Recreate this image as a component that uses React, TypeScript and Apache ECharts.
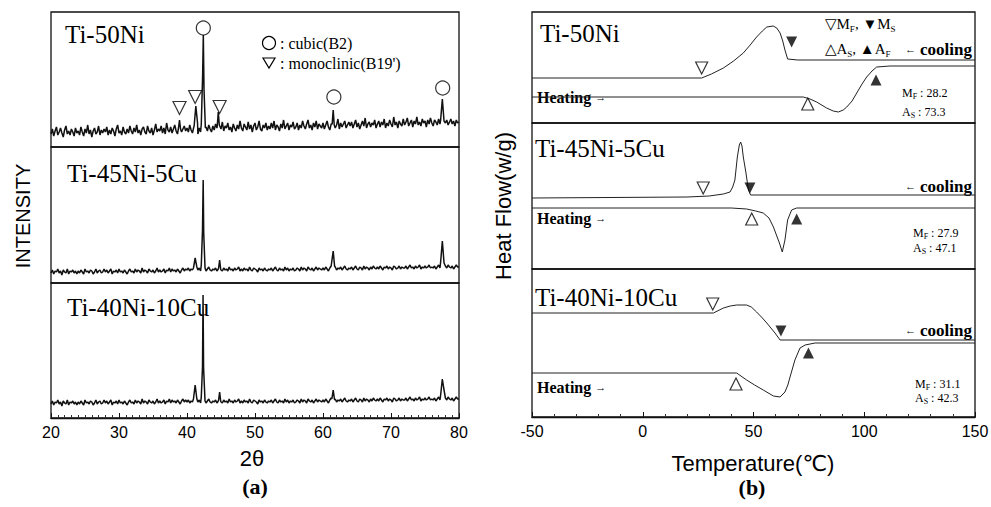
import React, { useEffect, useRef } from "react";
import * as echarts from "echarts";

// ---------- XRD (panel a) ----------
const TWO_THETA_START = 20;
const TWO_THETA_STEP = 0.2;

const xrdBase50Ni = [
  13, 18, 11, 16, 20, 12, 15, 19, 14, 10, 17, 21, 13, 16, 12, 18, 15, 11, 19, 14,
  16, 12, 20, 15, 11, 18, 14, 22, 13, 17, 10, 16, 19, 13, 15, 21, 12, 17, 14, 18,
  15, 20, 12, 17, 13, 19, 16, 11, 18, 22, 14, 16, 12, 20, 15, 13, 18, 14, 21, 16,
  13, 19, 15, 22, 14, 17, 12, 18, 20, 15, 13, 21, 16, 14, 19, 12, 17, 23, 15, 18,
  16, 21, 14, 19, 13, 24, 17, 15, 20, 14, 18, 22, 16, 13, 19, 25, 15, 18, 21, 16,
  19, 15, 22, 17, 14, 20, 16, 18, 13, 19, 15, 21, 17, 14, 20, 16, 22, 18, 15, 21,
  17, 23, 19, 15, 22, 18, 25, 16, 21, 19, 24, 17, 20, 15, 23, 19, 16, 22, 18, 26,
  19, 16, 23, 20, 17, 25, 18, 22, 15, 21, 24, 17, 20, 26, 18, 16, 22, 19, 24, 17,
  21, 18, 24, 19, 26, 17, 22, 20, 16, 23, 19, 27, 18, 21, 24, 17, 22, 20, 25, 18,
  20, 24, 17, 22, 19, 26, 21, 18, 23, 27, 19, 22, 17, 24, 20, 26, 18, 23, 21, 19,
  24, 18, 22, 26, 20, 17, 23, 21, 25, 19, 22, 28, 18, 24, 20, 23, 26, 19, 22, 25,
  21, 25, 19, 23, 27, 20, 24, 18, 22, 26, 21, 29, 19, 23, 25, 20, 24, 22, 27, 19,
  23, 26, 20, 25, 22, 28, 19, 24, 21, 27, 23, 20, 30, 22, 25, 19, 26, 23, 21, 28,
  22, 25, 29, 21, 24, 27, 20, 26, 23, 30, 22, 25, 21, 28, 24, 26, 20, 27, 23, 29,
  24, 21, 27, 25, 22, 28, 23, 26, 20, 29, 24, 27, 22, 25, 28, 23, 26, 21, 27, 24,
  25,
];
const xrdBase45Ni5Cu = [
  10, 13, 9, 12, 11, 14, 10, 12, 8, 13, 11, 10, 14, 9, 12, 11, 13, 10, 12, 9,
  12, 10, 13, 11, 9, 14, 11, 12, 10, 13, 12, 9, 11, 14, 10, 12, 13, 10, 11, 14,
  11, 13, 10, 12, 14, 9, 12, 11, 13, 10, 14, 11, 12, 10, 13, 11, 9, 12, 14, 11,
  12, 10, 14, 11, 13, 12, 10, 15, 11, 13, 12, 10, 14, 12, 11, 13, 10, 12, 15, 11,
  13, 11, 12, 14, 10, 13, 12, 15, 11, 14, 12, 13, 11, 14, 12, 10, 13, 15, 12, 14,
  13, 15, 12, 14, 13, 16, 12, 14, 13, 15, 12, 14, 13, 15, 12, 14, 16, 13, 12, 14,
  13, 15, 12, 14, 16, 13, 12, 15, 13, 14, 12, 16, 13, 14, 12, 15, 13, 14, 16, 12,
  14, 12, 15, 13, 14, 12, 16, 13, 12, 15, 14, 13, 11, 15, 13, 14, 12, 15, 13, 12,
  14, 13, 15, 12, 14, 16, 13, 12, 15, 13, 14, 12, 16, 13, 15, 12, 14, 13, 15, 12,
  13, 15, 14, 12, 16, 13, 15, 14, 12, 16, 14, 13, 15, 12, 14, 16, 13, 15, 14, 13,
  15, 13, 16, 14, 12, 15, 17, 13, 14, 16, 13, 15, 14, 16, 13, 15, 17, 14, 13, 15,
  14, 16, 13, 15, 17, 14, 13, 16, 15, 13, 17, 14, 16, 15, 13, 16, 14, 17, 15, 14,
  16, 14, 17, 15, 13, 16, 15, 17, 14, 16, 15, 13, 17, 16, 14, 15, 17, 14, 16, 15,
  15, 17, 14, 16, 18, 15, 16, 14, 17, 15, 16, 18, 14, 16, 15, 17, 15, 16, 18, 15,
  16, 15, 17, 14, 16, 18, 15, 17, 16, 14, 17, 15, 18, 16, 15, 17, 14, 16, 18, 16,
  16,
];
const xrdBase40Ni10Cu = [
  14, 17, 13, 16, 15, 18, 14, 16, 12, 17, 15, 14, 18, 13, 16, 15, 17, 14, 16, 13,
  16, 14, 17, 15, 13, 18, 15, 16, 14, 17, 16, 13, 15, 18, 14, 16, 17, 14, 15, 18,
  15, 17, 14, 16, 18, 13, 16, 15, 17, 14, 18, 15, 16, 14, 17, 15, 13, 16, 18, 15,
  16, 14, 18, 15, 17, 16, 14, 19, 15, 17, 16, 14, 18, 16, 15, 17, 14, 16, 19, 15,
  17, 15, 16, 18, 14, 17, 16, 19, 15, 18, 16, 17, 15, 18, 16, 14, 17, 19, 16, 18,
  16, 18, 15, 17, 16, 19, 15, 17, 16, 18, 15, 17, 16, 18, 15, 17, 19, 16, 15, 17,
  16, 18, 15, 17, 19, 16, 15, 18, 16, 17, 15, 19, 16, 17, 15, 18, 16, 17, 19, 15,
  17, 15, 18, 16, 17, 15, 19, 16, 15, 18, 17, 16, 14, 18, 16, 17, 15, 18, 16, 15,
  17, 16, 18, 15, 17, 19, 16, 15, 18, 16, 17, 15, 19, 16, 18, 15, 17, 16, 18, 15,
  16, 18, 17, 15, 19, 16, 18, 17, 15, 19, 17, 16, 18, 15, 17, 19, 16, 18, 17, 16,
  18, 16, 19, 17, 15, 18, 20, 16, 17, 19, 16, 18, 17, 19, 16, 18, 20, 17, 16, 18,
  17, 19, 16, 18, 20, 17, 16, 19, 18, 16, 20, 17, 19, 18, 16, 19, 17, 20, 18, 17,
  19, 17, 20, 18, 16, 19, 18, 20, 17, 19, 18, 16, 20, 19, 17, 18, 20, 17, 19, 18,
  18, 20, 17, 19, 21, 18, 19, 17, 20, 18, 19, 21, 17, 19, 18, 20, 18, 19, 21, 18,
  19, 18, 20, 17, 19, 21, 18, 20, 19, 17, 20, 18, 21, 19, 18, 20, 17, 19, 21, 19,
  19,
];

const xrdPeaks50Ni = [
  [[38.75, 19], [38.9, 27], [39.05, 18]],
  [[41.05, 21], [41.3, 41], [41.55, 24]],
  [[42.1, 23], [42.3, 72], [42.4, 112], [42.5, 58], [42.7, 19]],
  [[44.45, 21], [44.6, 35], [44.75, 22]],
  [[61.35, 23], [61.5, 37], [61.65, 22]],
  [[77.3, 27], [77.55, 48], [77.8, 26]],
];
const xrdPeaks45Ni5Cu = [
  [[40.95, 15], [41.2, 25], [41.45, 16]],
  [[42.1, 18], [42.28, 53], [42.38, 103], [42.46, 50], [42.65, 15]],
  [[44.65, 15], [44.8, 23], [44.95, 14]],
  [[61.3, 17], [61.5, 32], [61.7, 17]],
  [[77.3, 21], [77.55, 42], [77.8, 20]],
];
const xrdPeaks40Ni10Cu = [
  [[40.95, 19], [41.2, 33], [41.45, 19]],
  [[42.1, 21], [42.28, 51], [42.36, 123], [42.44, 50], [42.65, 17]],
  [[44.65, 18], [44.8, 26], [44.95, 17]],
  [[61.3, 19], [61.5, 28], [61.7, 18]],
  [[77.3, 23], [77.55, 39], [77.75, 30], [78.0, 20]],
];

const cubicMarks50Ni = [[42.4, 119], [61.6, 50], [77.6, 59]];
const monoMarks50Ni = [[38.9, 39], [41.2, 50], [44.8, 40]];

// ---------- DSC (panel b) ----------
const dscCool50Ni = [
  [-50, 45], [26.6, 45], [31, 49], [36.4, 55], [41, 62], [45.4, 70], [48.5, 78],
  [51.4, 86], [54, 92], [56, 96], [58.9, 97], [60.5, 95], [62, 90], [63.2, 82],
  [64.2, 73], [65.4, 64], [70, 63], [150, 63],
];
const dscHeat50Ni = [
  [-50, 26], [72.5, 26], [75.5, 24], [78.5, 21], [83, 15], [86, 12], [88.3, 11],
  [90.5, 13], [92.1, 16], [94.5, 22], [96.6, 30], [99, 39], [101.1, 46],
  [103.5, 52], [105.6, 56], [111.6, 57], [150, 57],
];
const dscCool45Ni5Cu = [
  [-50, 71], [20, 72], [30, 73], [36.4, 75], [39.4, 77], [40.6, 82], [41.6, 89],
  [42.7, 112], [43.6, 124], [44.2, 127], [44.8, 123], [45.4, 112], [46.6, 96],
  [47.7, 79], [48.7, 74], [150, 74],
];
const dscHeat45Ni5Cu = [
  [-50, 61], [40, 61], [46.9, 60], [51, 58], [54.4, 56], [57, 51], [59, 42],
  [61.7, 26], [63, 17], [64.2, 29], [65.4, 49], [67.2, 59], [69.5, 61], [150, 61],
];
const dscCool40Ni10Cu = [
  [-50, 104], [31.9, 104], [36.4, 109], [39.5, 111], [42.4, 112], [46.9, 112],
  [49, 110], [51.4, 105], [54, 99], [56, 94], [59.7, 84], [62, 77], [150, 77],
];
const dscHeat40Ni10Cu = [
  [-50, 44], [42.4, 44], [46.9, 37], [50.5, 32], [54.4, 27], [59, 21], [62, 20],
  [64.2, 25], [65.5, 32], [66.5, 40], [68.7, 57], [71, 69], [73.3, 72], [77.8, 74],
  [150, 74],
];

// markers: [Mf (open down), Ms (filled down), As (open up), Af (filled up)]
const dscMarks50Ni = [[26.6, 55], [67.2, 81], [74.5, 19], [105.3, 43]];
const dscMarks45Ni5Cu = [[27.3, 81], [48.4, 81], [49.2, 50], [69.5, 50]];
const dscMarks40Ni10Cu = [[31.6, 113], [62.4, 86], [42.1, 33], [74.8, 64]];

const sampleLabels = ["Ti-50Ni", "Ti-45Ni-5Cu", "Ti-40Ni-10Cu"];
const mfValues = ["28.2", "27.9", "31.1"];
const asValues = ["73.3", "47.1", "42.3"];

const SERIF = '"Liberation Serif", "DejaVu Serif", serif';
const SANS = '"Liberation Sans", "DejaVu Sans", sans-serif';
const INK = "#111";

function buildPattern(base: number[], peaks: number[][][]) {
  const pts: number[][] = [];
  base.forEach((v, i) => {
    const x = +(TWO_THETA_START + i * TWO_THETA_STEP).toFixed(2);
    const inside = peaks.some((g) => x >= g[0][0] && x <= g[g.length - 1][0]);
    if (!inside) pts.push([x, v]);
  });
  peaks.forEach((g) => g.forEach((p) => pts.push(p)));
  pts.sort((a, b) => a[0] - b[0]);
  return pts;
}

function txt(x: number, y: number, text: string, font: any, extra: any = {}) {
  return {
    type: "text",
    x,
    y,
    rotation: extra.rotation || 0,
    silent: true,
    style: {
      text,
      fill: "#000",
      align: extra.align || "left",
      verticalAlign: "middle",
      ...font,
      rich: extra.rich,
    },
  };
}

export default function App() {
  const ref = useRef<HTMLDivElement>(null);

  useEffect(() => {
    document.body.style.margin = "0";
    if (!ref.current) return;
    const chart = echarts.init(ref.current, undefined, { renderer: "svg" });

    const gridDefs = [
      { left: 51, top: 12, width: 408, height: 135 },
      { left: 51, top: 147, width: 408, height: 136 },
      { left: 51, top: 283, width: 408, height: 135 },
      { left: 532, top: 12, width: 443, height: 111 },
      { left: 532, top: 123, width: 443, height: 146 },
      { left: 532, top: 269, width: 443, height: 148 },
    ];
    const grid = gridDefs.map((g) => ({
      ...g,
      show: true,
      borderColor: INK,
      borderWidth: 1.3,
      backgroundColor: "transparent",
      containLabel: false,
      outerBoundsMode: "none",
    }));

    const xAxis = gridDefs.map((g, i) => {
      const isLeft = i < 3;
      const shown = i === 2 || i === 5;
      return {
        type: "value",
        gridIndex: i,
        min: isLeft ? 20 : -50,
        max: isLeft ? 80 : 150,
        interval: isLeft ? 10 : 50,
        show: shown,
        axisLine: { show: true, onZero: false, lineStyle: { color: INK, width: 1.3 } },
        axisTick: { show: true, inside: true, length: 5, lineStyle: { color: INK, width: 1 } },
        minorTick: {
          show: true,
          splitNumber: isLeft ? 10 : 5,
          length: 3,
          lineStyle: { color: "#333", width: 1 },
        },
        splitLine: { show: false },
        minorSplitLine: { show: false },
        axisLabel: {
          color: "#000",
          fontSize: 16,
          fontFamily: SANS,
          margin: 6,
        },
      };
    });

    const yAxis = gridDefs.map((g, i) => ({
      type: "value",
      gridIndex: i,
      min: 0,
      max: g.height,
      show: false,
    }));

    const lineSeries = (data: number[][], idx: number, width = 1, color = INK) => ({
      type: "line",
      xAxisIndex: idx,
      yAxisIndex: idx,
      data,
      showSymbol: false,
      symbol: "none",
      smooth: false,
      lineStyle: { color, width },
      silent: true,
      z: 2,
    });

    const markSeries = (
      data: number[][],
      idx: number,
      symbol: string,
      rotate: number,
      filled: boolean,
      size: number
    ) => ({
      type: "scatter",
      xAxisIndex: idx,
      yAxisIndex: idx,
      data,
      symbol,
      symbolRotate: rotate,
      symbolSize: size,
      itemStyle: {
        color: filled ? "#000" : "#fff",
        borderColor: "#000",
        borderWidth: filled ? 0 : 1.2,
      },
      silent: true,
      z: 5,
    });

    const dscSets = [
      { cool: dscCool50Ni, heat: dscHeat50Ni, marks: dscMarks50Ni },
      { cool: dscCool45Ni5Cu, heat: dscHeat45Ni5Cu, marks: dscMarks45Ni5Cu },
      { cool: dscCool40Ni10Cu, heat: dscHeat40Ni10Cu, marks: dscMarks40Ni10Cu },
    ];

    const series: any[] = [
      lineSeries(buildPattern(xrdBase50Ni, xrdPeaks50Ni), 0, 1.5),
      lineSeries(buildPattern(xrdBase45Ni5Cu, xrdPeaks45Ni5Cu), 1, 1.5),
      lineSeries(buildPattern(xrdBase40Ni10Cu, xrdPeaks40Ni10Cu), 2, 1.5),
      markSeries(cubicMarks50Ni, 0, "circle", 0, false, 14),
      markSeries(monoMarks50Ni, 0, "triangle", 180, false, 13),
    ];
    dscSets.forEach((s, k) => {
      const idx = 3 + k;
      series.push(lineSeries(s.cool, idx, 1, "#222"));
      series.push(lineSeries(s.heat, idx, 1, "#222"));
      series.push(markSeries([s.marks[0]], idx, "triangle", 180, false, 12));
      series.push(markSeries([s.marks[1]], idx, "triangle", 180, true, 11));
      series.push(markSeries([s.marks[2]], idx, "triangle", 0, false, 12));
      series.push(markSeries([s.marks[3]], idx, "triangle", 0, true, 11));
    });

    const big = { fontSize: 25, fontFamily: SERIF };
    const sub = (size: number, lh: number) => ({
      fontSize: size,
      fontFamily: SERIF,
      verticalAlign: "bottom",
      lineHeight: lh,
    });
    const main = (size: number, lh: number, weight = "normal") => ({
      fontSize: size,
      fontFamily: SERIF,
      fontWeight: weight,
      lineHeight: lh,
    });

    const graphic: any[] = [
      // left sample labels
      txt(65, 34, sampleLabels[0], big),
      txt(67, 173, sampleLabels[1], big),
      txt(67, 307, sampleLabels[2], big),
      // right sample labels
      txt(540, 33, sampleLabels[0], big),
      txt(535, 148, sampleLabels[1], big),
      txt(535, 297, sampleLabels[2], big),
      // legend in panel a
      {
        type: "circle",
        shape: { cx: 269, cy: 43, r: 6.5 },
        style: { fill: "#fff", stroke: "#000", lineWidth: 1.2 },
        silent: true,
      },
      txt(280, 43, ": cubic(B2)", { fontSize: 16, fontFamily: SERIF }),
      {
        type: "polygon",
        shape: { points: [[263, 58], [275, 58], [269, 68]] },
        style: { fill: "#fff", stroke: "#000", lineWidth: 1.2 },
        silent: true,
      },
      txt(280, 63, ": monoclinic(B19')", { fontSize: 16, fontFamily: SERIF }),
      // axis names panel a
      txt(252, 458, "2θ", { fontSize: 22, fontFamily: SANS }, { align: "center" }),
      txt(255, 486, "(a)", { fontSize: 22, fontFamily: SERIF, fontWeight: "bold" }, { align: "center" }),
      txt(23, 216, "INTENSITY", { fontSize: 20, fontFamily: SANS }, { align: "center", rotation: Math.PI / 2 }),
      // axis names panel b
      txt(753, 463, "Temperature(℃)", { fontSize: 22, fontFamily: SANS }, { align: "center" }),
      txt(752, 487, "(b)", { fontSize: 22, fontFamily: SERIF, fontWeight: "bold" }, { align: "center" }),
      txt(503, 206, "Heat Flow(w/g)", { fontSize: 22, fontFamily: SANS }, { align: "center", rotation: Math.PI / 2 }),
      // DSC legend header
      txt(825, 24, "{n|▽M}{s|F}{n|, ▼M}{s|S}", { fontSize: 15, fontFamily: SERIF }, {
        rich: { n: main(15, 18), s: sub(9, 18) },
      }),
      txt(825, 49, "{n|△A}{s|S}{n|, ▲A}{s|F}", { fontSize: 15, fontFamily: SERIF }, {
        rich: { n: main(15, 18), s: sub(9, 18) },
      }),
    ];

    const coolY = [49, 186, 330];
    const heatY = [97, 218, 387];
    const mfPos = [[902, 93], [913, 233], [915, 384]];
    const asPos = [[902, 112], [913, 248], [915, 398]];
    for (let k = 0; k < 3; k++) {
      graphic.push(
        txt(972, coolY[k], "{a|←} {b|cooling}", { fontSize: 16, fontFamily: SERIF }, {
          align: "right",
          rich: { a: main(11, 18), b: main(17, 18, "bold") },
        })
      );
      graphic.push(
        txt(537, heatY[k], "{b|Heating} {a|→}", { fontSize: 16, fontFamily: SERIF }, {
          rich: { a: main(11, 18), b: main(16, 18, "bold") },
        })
      );
      graphic.push(
        txt(mfPos[k][0], mfPos[k][1], `{n|M}{s|F}{n| : ${mfValues[k]}}`, { fontSize: 12, fontFamily: SERIF }, {
          rich: { n: main(12, 14), s: sub(8, 14) },
        })
      );
      graphic.push(
        txt(asPos[k][0], asPos[k][1], `{n|A}{s|S}{n| : ${asValues[k]}}`, { fontSize: 12, fontFamily: SERIF }, {
          rich: { n: main(12, 14), s: sub(8, 14) },
        })
      );
    }

    chart.setOption({
      animation: false,
      backgroundColor: "#fff",
      grid,
      xAxis,
      yAxis,
      series,
      graphic,
    });

    return () => chart.dispose();
  }, []);

  return <div ref={ref} style={{ width: 991, height: 507 }} />;
}
